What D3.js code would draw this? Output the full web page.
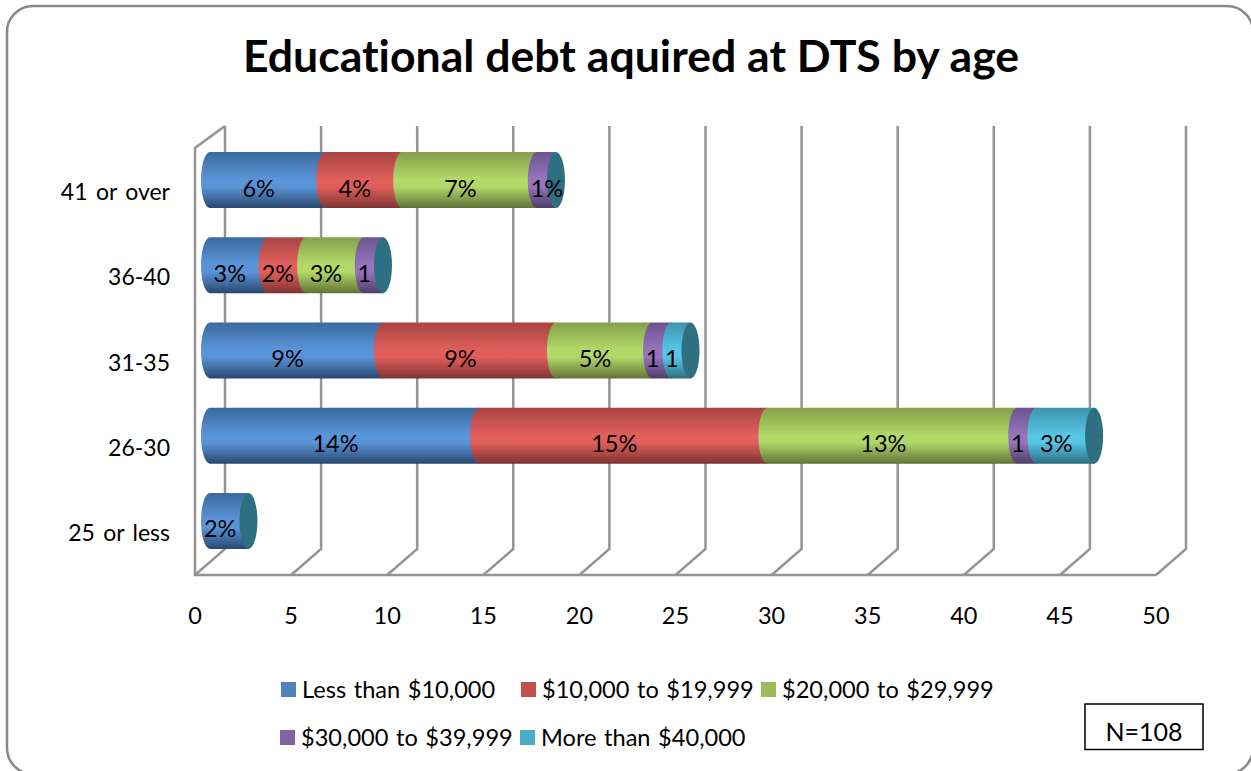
<!DOCTYPE html>
<html>
<head>
<meta charset="utf-8">
<title>Educational debt</title>
<script src="https://cdn.jsdelivr.net/npm/d3@7"></script>
<style>
  html, body { margin: 0; padding: 0; background: #fff; }
  svg { display: block; }
  text { font-family: Lato, "Open Sans", sans-serif; fill: #000; font-variant-ligatures: none; }
</style>
</head>
<body>
<div id="chart"></div>
<script>
// Debt bands, ages and counts per age group
const ageGroups = ["41 or over", "36-40", "31-35", "26-30", "25 or less"];
const debtBands = ["Less than $10,000", "$10,000 to $19,999", "$20,000 to $29,999", "$30,000 to $39,999", "More than $40,000"];
const under10k = [6, 3, 9, 14, 2];
const from10k = [4, 2, 9, 15, 0];
const from20k = [7, 3, 5, 13, 0];
const from30k = [1, 1, 1, 1, 0];
const over40k = [0, 0, 1, 3, 0];
const bandValues = [under10k, from10k, from20k, from30k, over40k];
const valueLabels = [
  ["6%", "3%", "9%", "14%", "2%"],
  ["4%", "2%", "9%", "15%", ""],
  ["7%", "3%", "5%", "13%", ""],
  ["1%", "1", "1", "1", ""],
  ["", "", "1", "3%", ""]
];
const axisTicks = [0, 5, 10, 15, 20, 25, 30, 35, 40, 45, 50];
const sampleNote = "N=108";
const chartTitle = "Educational debt aquired at DTS by age";

const legendColors = ["#4f81bd", "#c0504d", "#9bbb59", "#8064a2", "#4bacc6"];
// Cylinder shading: dark rim, light middle, dark rim
const bandShades = [
  ["#3a6a9e", "#5a94d8", "#28486f"],
  ["#a84543", "#e05e5c", "#7e3331"],
  ["#84a04b", "#b2d868", "#5f7336"],
  ["#6b558e", "#9673bb", "#4e3e69"],
  ["#3c94ad", "#57c5e4", "#2d6f82"]
];
const capColor = "#2f6f82";
const gridColor = "#949494";

const width = 1251, height = 771;
const svg = d3.select("#chart").append("svg").attr("width", width).attr("height", height);

// Chart frame
svg.append("rect")
  .attr("x", 7).attr("y", 6).attr("width", 1246).attr("height", 768)
  .attr("rx", 26).attr("ry", 26)
  .attr("fill", "#fff").attr("stroke", "#888").attr("stroke-width", 2.5);

svg.append("text")
  .attr("x", 631).attr("y", 72).attr("text-anchor", "middle")
  .attr("font-size", 44.6).attr("font-weight", 700)
  .text(chartTitle);

// Front plane of the axis box and the depth offset of the back wall
const x = d3.scaleLinear().domain([0, 50]).range([195, 1156]);
const depthX = 30, floorRise = 26;
const floorY = 575, backTop = 126, frontTop = 148;
const barStart = 6;   // bars sit slightly in front of the axis origin
const y = d3.scaleBand().domain(ageGroups).range([152, 549]).paddingInner(0.343).paddingOuter(0);

const defs = svg.append("defs");
bandShades.forEach((s, i) => {
  const g = defs.append("linearGradient").attr("id", "shade" + i)
    .attr("x1", 0).attr("x2", 0).attr("y1", 0).attr("y2", 1);
  g.append("stop").attr("offset", "0%").attr("stop-color", s[0]);
  g.append("stop").attr("offset", "48%").attr("stop-color", s[1]);
  g.append("stop").attr("offset", "62%").attr("stop-color", s[1]);
  g.append("stop").attr("offset", "100%").attr("stop-color", s[2]);
});

// Back wall grid and floor
const grid = svg.append("g").attr("fill", "none").attr("stroke", gridColor).attr("stroke-width", 2.5);
grid.selectAll("path.wall").data(axisTicks).join("path").attr("class", "wall")
  .attr("d", t => `M${x(t) + depthX},${backTop}V${floorY - floorRise}L${x(t)},${floorY}`);
grid.append("path")
  .attr("d", `M${x(0) + depthX},${backTop}L${x(0)},${frontTop}V${floorY}H${x(50)}`);

// Stacked cylinders
const stackKeys = d3.range(debtBands.length);
const rows = ageGroups.map((g, r) => {
  const row = { group: g };
  stackKeys.forEach(k => { row[k] = bandValues[k][r]; });
  return row;
});
const series = d3.stack().keys(stackKeys)(rows);

const rx = 9;
const w = x(1) - x(0);
const px = v => x(v) + barStart;

const bars = svg.append("g");
series.forEach((s, k) => {
  s.forEach((d, r) => {
    if (d[1] === d[0]) return;
    const top = y(ageGroups[r]), bot = top + y.bandwidth(), ry = (bot - top) / 2;
    // each segment runs a pixel under its neighbour so no seam shows
    const x0 = px(d[0]) + rx, x1 = px(d[1]) + rx + 1;
    bars.append("path")
      .attr("d", `M${x0},${top}H${x1}A${rx},${ry} 0 0 0 ${x1},${bot}H${x0}A${rx},${ry} 0 0 1 ${x0},${top}Z`)
      .attr("fill", `url(#shade${k})`);
  });
});

// End caps at each bar's total
rows.forEach(row => {
  const total = d3.sum(stackKeys, k => row[k]);
  const top = y(row.group), bh = y.bandwidth();
  bars.append("ellipse")
    .attr("cx", px(total) + rx).attr("cy", top + bh / 2)
    .attr("rx", rx).attr("ry", bh / 2)
    .attr("fill", capColor);
});

// Value labels
const labels = svg.append("g").attr("font-size", 23.5).attr("text-anchor", "middle");
series.forEach((s, k) => {
  s.forEach((d, r) => {
    const txt = valueLabels[k][r];
    if (!txt) return;
    const nudge = txt === "1%" ? w / 2 : 0;   // the one-unit "1%" label is pushed toward the cap
    labels.append("text")
      .attr("x", (px(d[0]) + px(d[1])) / 2 + nudge)
      .attr("y", y(ageGroups[r]) + y.bandwidth() / 2 + 16.5)
      .text(txt);
  });
});

// Category labels
svg.append("g").attr("font-size", 23).attr("word-spacing", 2.5).attr("text-anchor", "end")
  .selectAll("text").data(ageGroups).join("text")
  .attr("x", 170)
  .attr("y", g => y(g) + y.bandwidth() / 2 + 20)
  .text(g => g);

// Value axis labels
svg.append("g").attr("font-size", 23.5).attr("text-anchor", "middle")
  .selectAll("text").data(axisTicks).join("text")
  .attr("x", t => x(t)).attr("y", 624)
  .text(t => t);

// Legend
const legendRows = [[0, 281, 690], [1, 521, 690], [2, 761, 690], [3, 280, 738], [4, 520, 738]];
const legend = svg.append("g");
legendRows.forEach(([k, lx, ly]) => {
  legend.append("rect").attr("x", lx).attr("y", ly - 8).attr("width", 15).attr("height", 15).attr("fill", legendColors[k]);
  legend.append("text").attr("x", lx + 21).attr("y", ly + 8)
    .attr("font-size", 23.6).attr("word-spacing", 1.5).text(debtBands[k]);
});

// Sample size box
svg.append("rect").attr("x", 1085).attr("y", 704).attr("width", 118).attr("height", 45.5)
  .attr("fill", "#fff").attr("stroke", "#000").attr("stroke-width", 1.5);
svg.append("text").attr("x", 1144).attr("y", 741).attr("text-anchor", "middle").attr("font-size", 25).text(sampleNote);
</script>
</body>
</html>
